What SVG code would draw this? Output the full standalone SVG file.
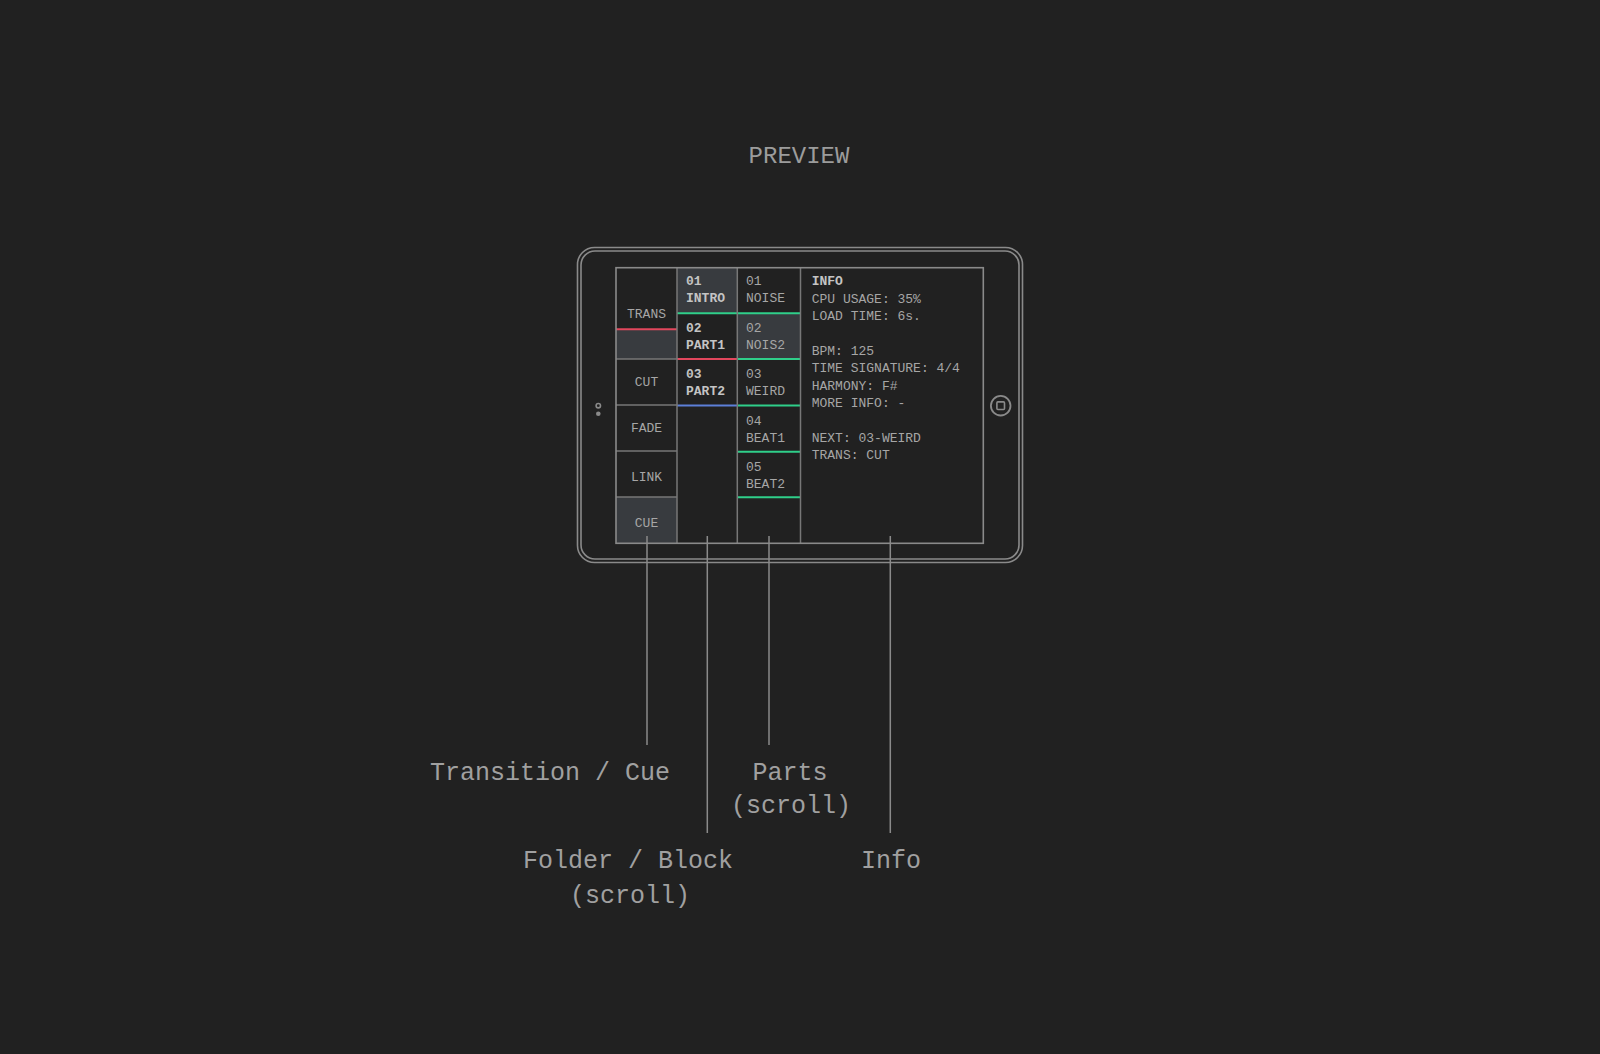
<svg xmlns="http://www.w3.org/2000/svg" width="1600" height="1054" viewBox="0 0 1600 1054">
<style>
.t{font-family:"Liberation Mono","DejaVu Sans Mono",monospace;font-size:13px;fill:#a6a6a6}
.b{font-weight:bold;fill:#c4c4c4}
.lbl{font-family:"Liberation Mono","DejaVu Sans Mono",monospace;font-size:25px;fill:#a0a0a0}
.ln{stroke:#8a8a8a;stroke-width:1.6;fill:none}
.sep{stroke:#777;stroke-width:1.5}
.hl{fill:#383b3f}
.g{stroke:#2fcf8a;stroke-width:2}
.r{stroke:#e2475d;stroke-width:2}
.bl{stroke:#5c7fd8;stroke-width:2}
.lead{stroke:#8a8a8a;stroke-width:1.5}
</style>
<rect width="1600" height="1054" fill="#212121"/>
<text id="title" x="799" y="163" text-anchor="middle" font-family="Liberation Mono, DejaVu Sans Mono, monospace" font-size="24" fill="#9c9c9c">PREVIEW</text>
<g id="tablet">
<rect class="ln" x="577.5" y="247.5" width="445" height="315" rx="17"/>
<rect class="ln" x="581" y="251" width="438" height="308" rx="14"/>
<circle cx="598.3" cy="405.7" r="2.2" fill="none" stroke="#8a8a8a" stroke-width="1.6"/>
<circle cx="598.3" cy="413.7" r="2.3" fill="#8a8a8a"/>
<circle cx="1000.7" cy="405.7" r="9.8" fill="none" stroke="#8a8a8a" stroke-width="1.8"/>
<rect x="996.9" y="401.9" width="7.6" height="7.6" rx="1" fill="none" stroke="#8a8a8a" stroke-width="1.6"/>
</g>
<g id="screen">
<rect class="hl" x="616" y="329" width="61" height="30"/>
<rect class="hl" x="616" y="497" width="61" height="46"/>
<rect class="hl" x="677" y="268" width="60" height="45"/>
<rect class="hl" x="737" y="313" width="63" height="46"/>
<line class="sep" x1="616" y1="359" x2="677" y2="359"/>
<line class="sep" x1="616" y1="405" x2="677" y2="405"/>
<line class="sep" x1="616" y1="451" x2="677" y2="451"/>
<line class="sep" x1="616" y1="497" x2="677" y2="497"/>
<line class="r" x1="616" y1="329.3" x2="677" y2="329.3"/>
<line class="g" x1="677" y1="313.3" x2="737" y2="313.3"/>
<line class="r" x1="677" y1="359" x2="737" y2="359"/>
<line class="bl" x1="677" y1="405.5" x2="737" y2="405.5"/>
<line class="g" x1="737" y1="313.3" x2="800" y2="313.3"/>
<line class="g" x1="737" y1="359" x2="800" y2="359"/>
<line class="g" x1="737" y1="405.5" x2="800" y2="405.5"/>
<line class="g" x1="737" y1="451.7" x2="800" y2="451.7"/>
<line class="g" x1="737" y1="497.3" x2="800" y2="497.3"/>
<line class="sep" x1="677" y1="268" x2="677" y2="543"/>
<line class="sep" x1="737.3" y1="268" x2="737.3" y2="543"/>
<line class="sep" x1="800.5" y1="268" x2="800.5" y2="543"/>
<rect class="ln" x="616" y="267.7" width="367.3" height="275.6"/>
</g>
<g id="trans-col">
<text class="t" x="646.5" y="318.3" text-anchor="middle">TRANS</text>
<text class="t" x="646.5" y="385.7" text-anchor="middle">CUT</text>
<text class="t" x="646.5" y="432.3" text-anchor="middle">FADE</text>
<text class="t" x="646.5" y="481" text-anchor="middle">LINK</text>
<text class="t" x="646.5" y="527.3" text-anchor="middle">CUE</text>
</g>
<g id="folder-col">
<text class="t b" x="686" y="285">01</text>
<text class="t b" x="686" y="302.3">INTRO</text>
<text class="t b" x="686" y="332.3">02</text>
<text class="t b" x="686" y="349.3">PART1</text>
<text class="t b" x="686" y="377.7">03</text>
<text class="t b" x="686" y="395">PART2</text>
</g>
<g id="parts-col">
<text class="t" x="746" y="285">01</text>
<text class="t" x="746" y="302.3">NOISE</text>
<text class="t" x="746" y="332.3">02</text>
<text class="t" x="746" y="349.3">NOIS2</text>
<text class="t" x="746" y="377.7">03</text>
<text class="t" x="746" y="395">WEIRD</text>
<text class="t" x="746" y="425">04</text>
<text class="t" x="746" y="442.3">BEAT1</text>
<text class="t" x="746" y="470.7">05</text>
<text class="t" x="746" y="487.7">BEAT2</text>
</g>
<g id="info-col">
<text class="t b" x="811.7" y="285">INFO</text>
<text class="t" x="811.7" y="302.5">CPU USAGE: 35%</text>
<text class="t" x="811.7" y="320">LOAD TIME: 6s.</text>
<text class="t" x="811.7" y="355">BPM: 125</text>
<text class="t" x="811.7" y="372.2">TIME SIGNATURE: 4/4</text>
<text class="t" x="811.7" y="389.5">HARMONY: F#</text>
<text class="t" x="811.7" y="406.8">MORE INFO: -</text>
<text class="t" x="811.7" y="441.5">NEXT: 03-WEIRD</text>
<text class="t" x="811.7" y="458.7">TRANS: CUT</text>
</g>
<g id="connectors">
<line class="lead" x1="647" y1="536" x2="647" y2="745"/>
<line class="lead" x1="707.3" y1="536" x2="707.3" y2="833"/>
<line class="lead" x1="769" y1="536" x2="769" y2="745"/>
<line class="lead" x1="890.3" y1="536" x2="890.3" y2="833"/>
</g>
<g id="label-transition"><text class="lbl" x="430" y="780">Transition / Cue</text></g>
<g id="label-parts"><text class="lbl" x="790" y="780" text-anchor="middle">Parts</text><text class="lbl" x="791" y="813" text-anchor="middle">(scroll)</text></g>
<g id="label-folder"><text class="lbl" x="628" y="868" text-anchor="middle">Folder / Block</text><text class="lbl" x="630" y="903" text-anchor="middle">(scroll)</text></g>
<g id="label-info"><text class="lbl" x="891" y="868" text-anchor="middle">Info</text></g>
</svg>
